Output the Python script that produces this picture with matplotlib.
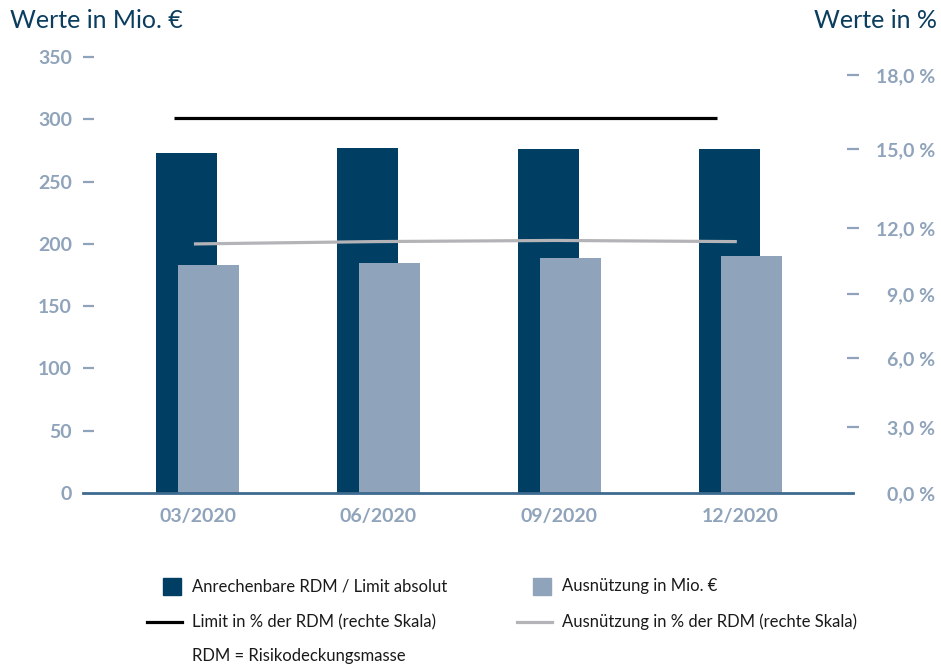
import matplotlib
matplotlib.use("Agg")
import matplotlib.pyplot as plt
import numpy as np
from matplotlib.lines import Line2D
from matplotlib.patches import Rectangle

plt.rcParams["font.family"] = ["Lato", "DejaVu Sans"]

# data
categories = ["03/2020", "06/2020", "09/2020", "12/2020"]
rdm_limit = [273, 277, 276, 276]           # Anrechenbare RDM / Limit absolut (Mio. €)
ausnutzung = [183, 185, 189, 190]          # Ausnützung in Mio. €
limit_pct = [16.1, 16.1, 16.1, 16.1]       # Limit in % der RDM (rechte Skala)
ausnutzung_pct = [10.7, 10.8, 10.85, 10.8]  # Ausnützung in % der RDM (rechte Skala)

left_ticks = [0, 50, 100, 150, 200, 250, 300, 350]
right_tick_pos = [0, 2.84, 5.80, 8.55, 11.38, 14.78, 17.96]
right_tick_labels = ["0,0 %", "3,0 %", "6,0 %", "9,0 %", "12,0 %", "15,0 %", "18,0 %"]

DARK = "#003f63"
LIGHT = "#8fa3bb"
TICK = "#8fa3bb"
TITLE = "#0b3d5f"
AXIS = "#3d6a8e"
GREY = "#b4b4b8"
TEXT = "#1a1a1a"

W, H = 941, 670
fig = plt.figure(figsize=(W / 100, H / 100), dpi=100)
ax = fig.add_axes([0.0882, 0.2642, 0.8183, 0.6507])
ax2 = ax.twinx()

x = np.arange(len(categories))
w = 0.337
ax.bar(x - 0.061, rdm_limit, width=w, color=DARK, zorder=2)
ax.bar(x + 0.061, ausnutzung, width=w, color=LIGHT, zorder=3)

ax2.plot(x - 0.13, limit_pct, color="black", lw=2.3, solid_capstyle="butt")
ax2.plot(x - 0.02, ausnutzung_pct, color=GREY, lw=2.3, solid_capstyle="butt")

ax.set_xlim(-0.633, 3.622)
ax.set_ylim(0, 350)
ax2.set_ylim(0, 18.73)

for a in (ax, ax2):
    for s in ("top", "left", "right"):
        a.spines[s].set_visible(False)
ax2.spines["bottom"].set_visible(False)
ax.spines["bottom"].set_color(AXIS)
ax.spines["bottom"].set_linewidth(2)
ax.spines["bottom"].set_zorder(5)

ax.set_xticks(x)
ax.set_xticklabels(categories)
ax.tick_params(axis="x", length=0, pad=11, labelsize=14, labelcolor=TICK)
for lab in ax.get_xticklabels():
    lab.set_fontweight("bold")

ax.set_yticks(left_ticks)
ax.tick_params(axis="y", direction="in", length=8, width=1.6, color=TICK,
               pad=8, labelsize=14, labelcolor=TICK)
for lab in ax.get_yticklabels():
    lab.set_fontweight("bold")
ax.yaxis.get_major_ticks()[0].tick1line.set_visible(False)

ax2.set_yticks(right_tick_pos)
ax2.set_yticklabels(right_tick_labels)
ax2.tick_params(axis="y", direction="inout", length=8, width=1.6, color=TICK,
                pad=55, labelsize=14, labelcolor=TICK)
for lab in ax2.get_yticklabels():
    lab.set_fontweight("bold")
    lab.set_horizontalalignment("right")
ax2.yaxis.get_major_ticks()[0].tick2line.set_visible(False)

fig.text(10 / W, 1 - 20 / H, "Werte in Mio. €", color=TITLE, fontsize=18,
         ha="left", va="center")
fig.text(937 / W, 1 - 20 / H, "Werte in %", color=TITLE, fontsize=18,
         ha="right", va="center")


# legend, laid out by hand (pixel positions from the reference)
def fx(px):
    return px / W


def fy(py):
    return 1 - py / H


legend_items = [
    ("box", DARK, 147, 586, "Anrechenbare RDM / Limit absolut"),
    ("box", LIGHT, 517, 586, "Ausnützung in Mio. €"),
    ("line", "black", 147, 622, "Limit in % der RDM (rechte Skala)"),
    ("line", GREY, 517, 622, "Ausnützung in % der RDM (rechte Skala)"),
]
for kind, col, px, py, label in legend_items:
    if kind == "box":
        fig.add_artist(Rectangle((fx(px + 16), fy(py + 8.5)), 18 / W, 17 / H,
                                 color=col, transform=fig.transFigure))
    else:
        fig.add_artist(Line2D([fx(px), fx(px + 35)], [fy(py), fy(py)],
                              color=col, lw=2.3, transform=fig.transFigure))
    fig.text(fx(px + 45), fy(py), label, fontsize=12, color=TEXT,
             ha="left", va="center")

fig.text(fx(192), fy(656), "RDM = Risikodeckungsmasse", fontsize=12,
         color=TEXT, ha="left", va="center")

fig.savefig("out.png", dpi=100)
